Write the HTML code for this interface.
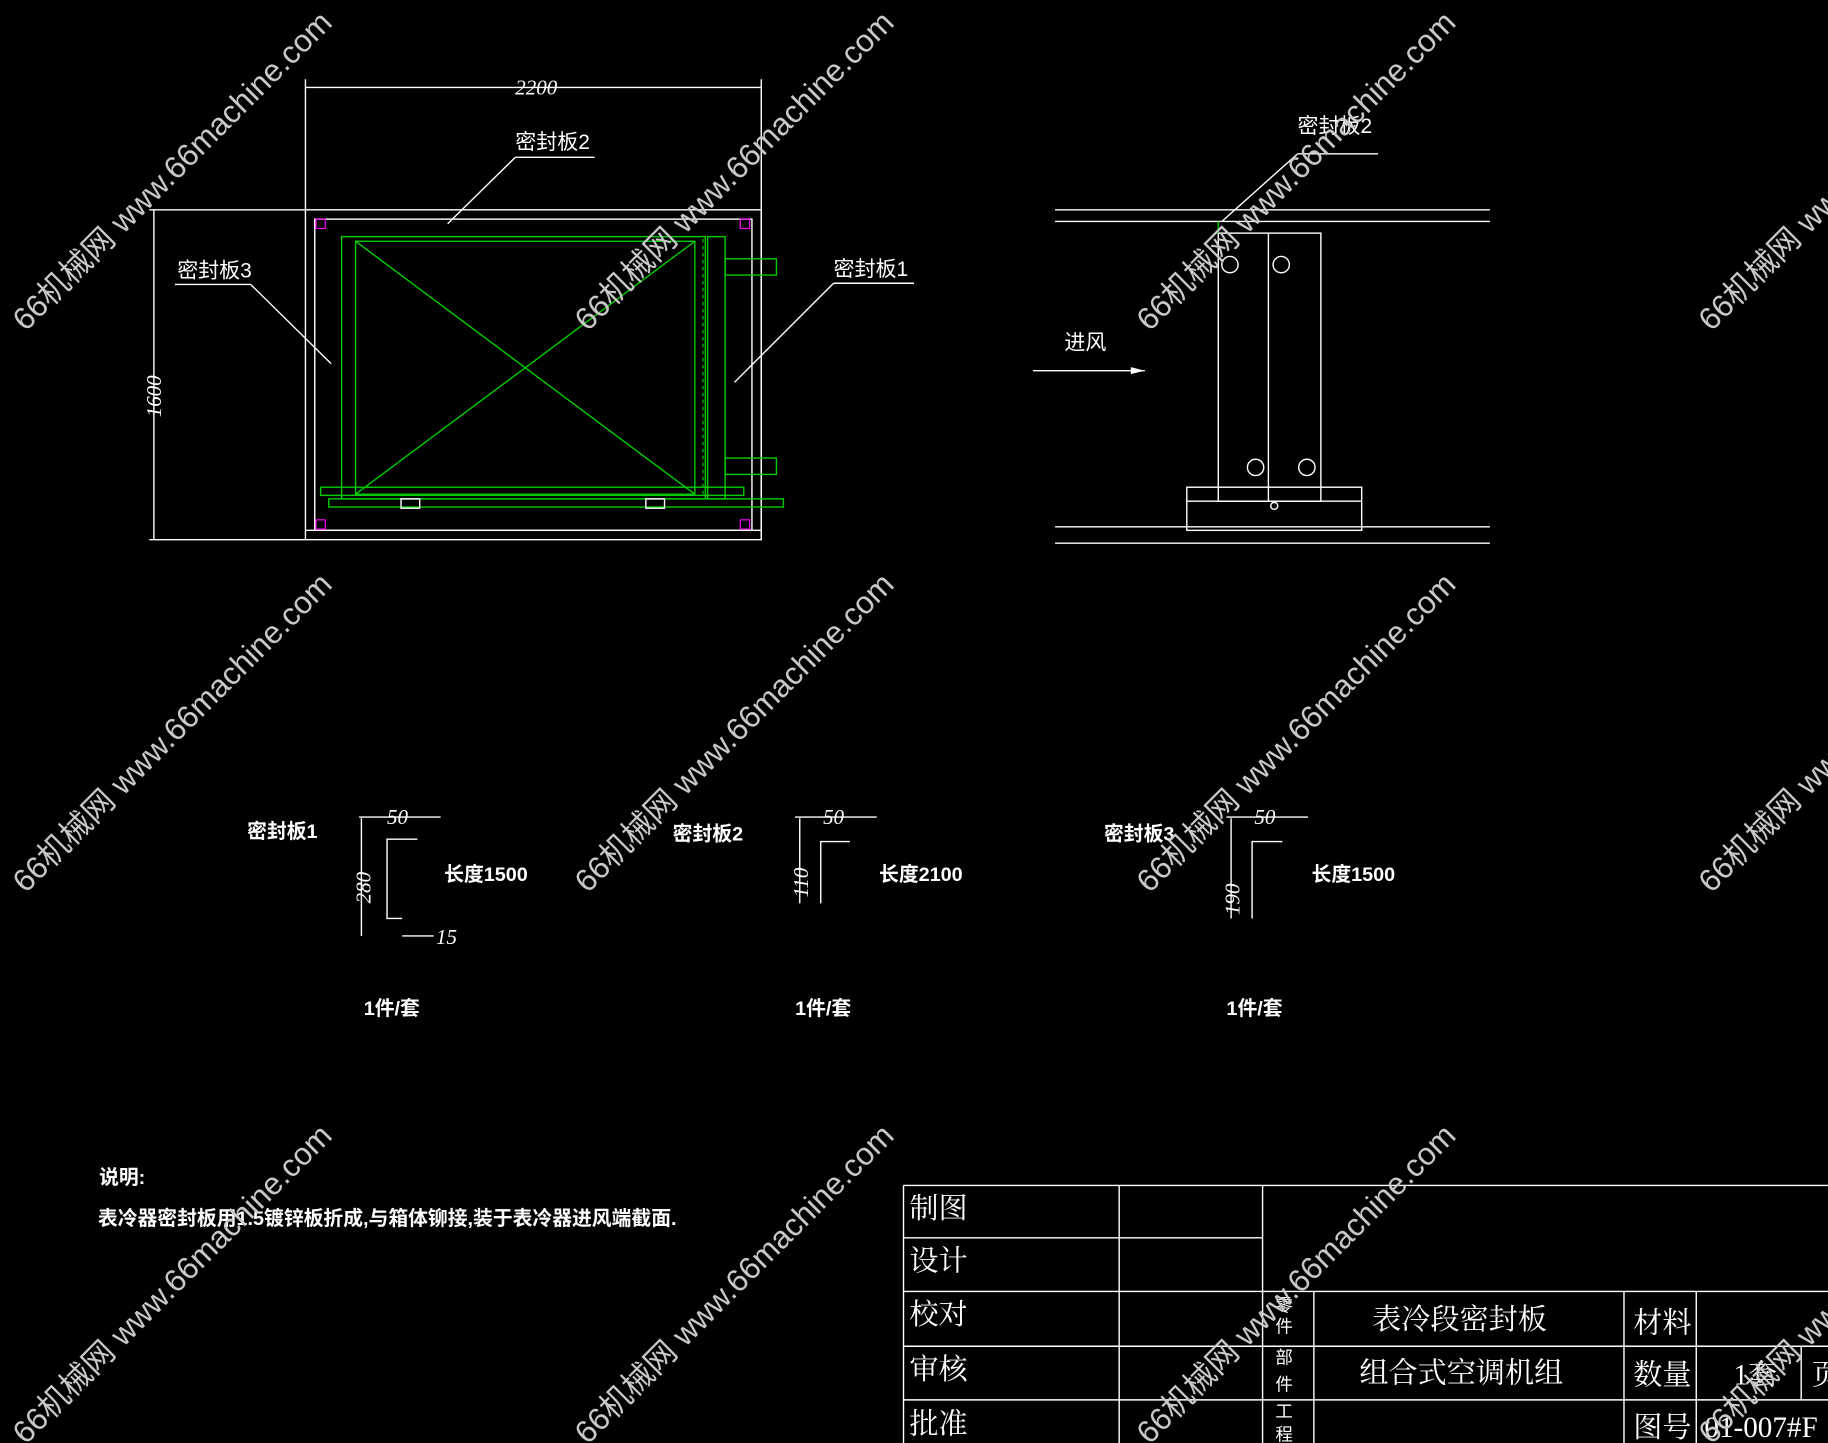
<!DOCTYPE html>
<html><head><meta charset="utf-8"><style>
html,body{margin:0;padding:0;background:#000;width:1828px;height:1443px;overflow:hidden}
svg{display:block}
text{font-family:"Liberation Sans","Noto Sans CJK SC",sans-serif}
.w{stroke:#fff;fill:none;stroke-width:1.2}
.g{stroke:#0c0;fill:none;stroke-width:1.2}
.t{fill:#fff;font-size:18px}
.b{fill:#fff;font-size:17px;font-weight:bold}
.d{fill:#fff;font-size:18px;font-style:italic;font-family:"Liberation Serif",serif}
.wm{fill:#c8c8c8;font-size:27px}
.tb{fill:#fff;font-size:25px;font-family:"Liberation Serif","Noto Serif CJK SC",serif}
</style></head><body>
<svg width="1828" height="1443" viewBox="0 0 1568 1238" preserveAspectRatio="none">
<!-- front view -->
<line class="w" x1="262" y1="75" x2="653" y2="75"/>
<line class="w" x1="262" y1="68" x2="262" y2="180"/>
<line class="w" x1="653" y1="68" x2="653" y2="463"/>
<text class="d" x="442" y="81">2200</text>
<line class="w" x1="128" y1="180" x2="262" y2="180"/>
<line class="w" x1="128" y1="463" x2="262" y2="463"/>
<line class="w" x1="132" y1="180" x2="132" y2="463"/>
<text class="d" transform="translate(138,358) rotate(-90)">1600</text>
<rect class="w" x="262" y="180" width="391" height="283"/>
<rect class="w" x="270" y="188" width="375" height="267"/>
<line class="w" x1="262" y1="455" x2="653" y2="455"/>
<rect x="271" y="188" width="8" height="8" stroke="#f0f" fill="none"/>
<rect x="635" y="188" width="8" height="8" stroke="#f0f" fill="none"/>
<rect x="271" y="446" width="8" height="8" stroke="#f0f" fill="none"/>
<rect x="635" y="446" width="8" height="8" stroke="#f0f" fill="none"/>
<rect class="g" x="293" y="203" width="312" height="225"/>
<rect class="g" x="305" y="207" width="291" height="217"/>
<line class="g" x1="305" y1="207" x2="596" y2="424"/>
<line class="g" x1="596" y1="207" x2="305" y2="424"/>
<rect class="g" x="607" y="203" width="15" height="225"/>
<line x1="603" y1="205" x2="603" y2="426" stroke="#0c0" stroke-dasharray="3,3"/>
<rect class="g" x="622" y="222" width="44" height="14"/>
<rect class="g" x="622" y="393" width="44" height="14"/>
<rect class="g" x="275" y="418" width="363" height="7"/>
<rect class="g" x="282" y="428" width="390" height="7"/>
<rect class="w" x="344" y="428" width="16" height="8"/>
<rect class="w" x="554" y="428" width="16" height="8"/>
<text class="t" x="442" y="128">密封板2</text>
<line class="w" x1="442" y1="135" x2="510" y2="135"/>
<line class="w" x1="442" y1="135" x2="384" y2="192"/>
<text class="t" x="152" y="238">密封板3</text>
<line class="w" x1="150" y1="244" x2="215" y2="244"/>
<line class="w" x1="215" y1="244" x2="284" y2="312"/>
<text class="t" x="715" y="237">密封板1</text>
<line class="w" x1="715" y1="243" x2="784" y2="243"/>
<line class="w" x1="715" y1="243" x2="630" y2="328"/>
<!-- side view -->
<line class="w" x1="905" y1="180" x2="1278" y2="180"/>
<line class="w" x1="905" y1="190" x2="1278" y2="190"/>
<line class="w" x1="905" y1="452" x2="1278" y2="452"/>
<line class="w" x1="905" y1="466" x2="1278" y2="466"/>
<rect class="w" x="1045" y="200" width="88" height="230"/>
<line class="w" x1="1088" y1="200" x2="1088" y2="430"/>
<circle class="w" cx="1055" cy="227" r="7"/><circle class="w" cx="1099" cy="227" r="7"/>
<circle class="w" cx="1077" cy="401" r="7"/><circle class="w" cx="1121" cy="401" r="7"/>
<rect class="w" x="1018" y="418" width="150" height="37"/>
<line class="w" x1="1018" y1="430" x2="1168" y2="430"/>
<circle class="w" cx="1093" cy="434" r="3"/>
<line class="g" x1="1045" y1="190" x2="1045" y2="200"/>
<text class="t" x="1113" y="114">密封板2</text>
<line class="w" x1="1113" y1="132" x2="1182" y2="132"/>
<line class="w" x1="1113" y1="132" x2="1048" y2="190"/>
<text class="t" x="913" y="300">进风</text>
<line class="w" x1="886" y1="318" x2="982" y2="318"/>
<polygon points="982,318 970,315 970,321" fill="#fff"/>
<!-- profiles -->
<text class="b" x="212" y="719">密封板1</text>
<polyline class="w" points="358,720 332,720 332,788 345,788"/>
<line class="w" x1="308" y1="701" x2="378" y2="701"/>
<text class="d" x="332" y="707">50</text>
<line class="w" x1="310" y1="702" x2="310" y2="803"/>
<text class="d" transform="translate(318,775) rotate(-90)">280</text>
<line class="w" x1="345" y1="803" x2="372" y2="803"/>
<text class="d" x="374" y="810">15</text>
<text class="b" x="381" y="756">长度1500</text>
<text class="b" x="577" y="721">密封板2</text>
<polyline class="w" points="729,722 704,722 704,775"/>
<line class="w" x1="682" y1="701" x2="752" y2="701"/>
<text class="d" x="706" y="707">50</text>
<line class="w" x1="686" y1="702" x2="686" y2="775"/>
<text class="d" transform="translate(693,770) rotate(-90)">110</text>
<text class="b" x="754" y="756">长度2100</text>
<text class="b" x="947" y="721">密封板3</text>
<polyline class="w" points="1100,722 1074,722 1074,788"/>
<line class="w" x1="1052" y1="701" x2="1122" y2="701"/>
<text class="d" x="1076" y="707">50</text>
<line class="w" x1="1056" y1="702" x2="1056" y2="788"/>
<text class="d" transform="translate(1063,785) rotate(-90)">190</text>
<text class="b" x="1125" y="756">长度1500</text>
<text class="b" x="312" y="871">1件/套</text>
<text class="b" x="682" y="871">1件/套</text>
<text class="b" x="1052" y="871">1件/套</text>
<text class="b" x="85" y="1016">说明:</text>
<text class="b" x="84" y="1051">表冷器密封板用1.5镀锌板折成,与箱体铆接,装于表冷器进风端截面.</text>
<!-- title block -->
<g class="w">
<line x1="775" y1="1017" x2="1568" y2="1017"/>
<line x1="775" y1="1062" x2="1083" y2="1062"/>
<line x1="775" y1="1108" x2="1568" y2="1108"/>
<line x1="775" y1="1155" x2="1568" y2="1155"/>
<line x1="775" y1="1201" x2="1568" y2="1201"/>
<line x1="775" y1="1017" x2="775" y2="1238"/>
<line x1="960" y1="1017" x2="960" y2="1238"/>
<line x1="1083" y1="1017" x2="1083" y2="1238"/>
<line x1="1127" y1="1108" x2="1127" y2="1238"/>
<line x1="1393" y1="1108" x2="1393" y2="1238"/>
<line x1="1455" y1="1108" x2="1455" y2="1238"/>
<line x1="1545" y1="1155" x2="1545" y2="1201"/>
</g>
<text class="tb" x="780" y="1045">制图</text>
<text class="tb" x="780" y="1090">设计</text>
<text class="tb" x="780" y="1136">校对</text>
<text class="tb" x="780" y="1183">审核</text>
<text class="tb" x="780" y="1230">批准</text>
<text class="tb" x="1177" y="1140">表冷段密封板</text>
<text class="tb" x="1166" y="1186">组合式空调机组</text>
<text class="tb" x="1401" y="1143">材料</text>
<text class="tb" x="1401" y="1188">数量</text>
<text class="tb" x="1401" y="1233">图号</text>
<text class="tb" x="1487" y="1188">1套</text>
<text class="tb" x="1554" y="1188">页</text>
<text class="tb" x="1462" y="1233">01-007#F</text>
<g fill="#fff" font-size="15"><text x="1094" y="1125">零</text><text x="1094" y="1143">件</text><text x="1094" y="1170">部</text><text x="1094" y="1193">件</text><text x="1094" y="1216">工</text><text x="1094" y="1236">程</text></g>
<!-- watermarks -->
<g class="wm">
<text transform="translate(22,285) rotate(-45)">66机械网 www.66machine.com</text>
<text transform="translate(504,285) rotate(-45)">66机械网 www.66machine.com</text>
<text transform="translate(986,285) rotate(-45)">66机械网 www.66machine.com</text>
<text transform="translate(1468,285) rotate(-45)">66机械网 www.66machine.com</text>
<text transform="translate(22,767) rotate(-45)">66机械网 www.66machine.com</text>
<text transform="translate(504,767) rotate(-45)">66机械网 www.66machine.com</text>
<text transform="translate(986,767) rotate(-45)">66机械网 www.66machine.com</text>
<text transform="translate(1468,767) rotate(-45)">66机械网 www.66machine.com</text>
<text transform="translate(22,1240) rotate(-45)">66机械网 www.66machine.com</text>
<text transform="translate(504,1240) rotate(-45)">66机械网 www.66machine.com</text>
<text transform="translate(986,1240) rotate(-45)">66机械网 www.66machine.com</text>
<text transform="translate(1468,1240) rotate(-45)">66机械网 www.66machine.com</text>
</g>
</svg>
</body></html>
